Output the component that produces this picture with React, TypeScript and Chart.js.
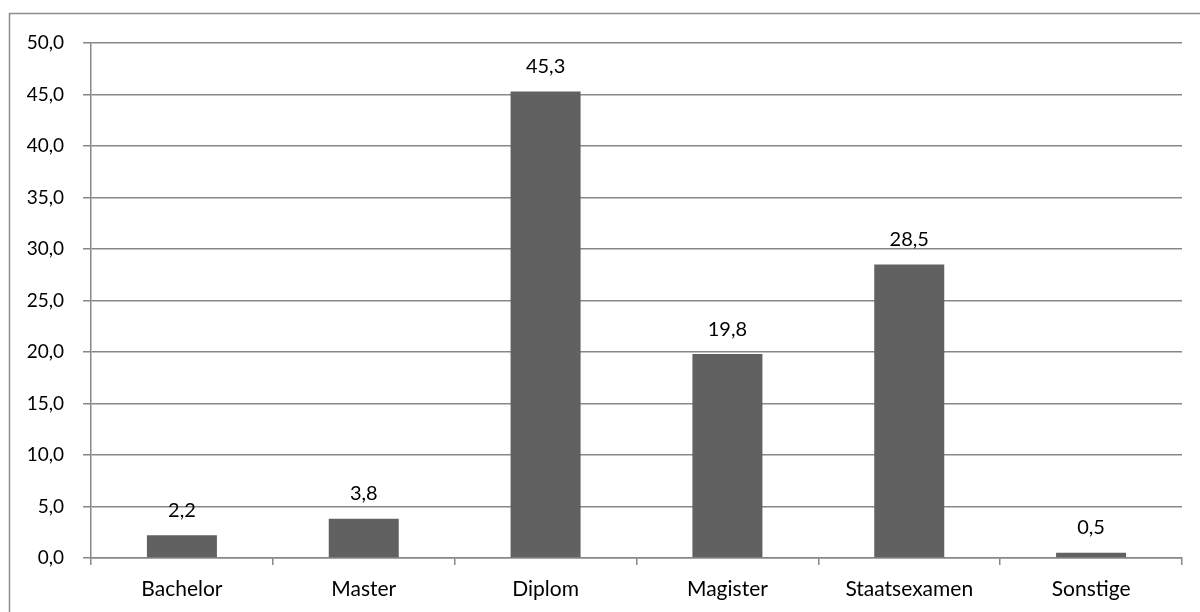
import React, { useEffect, useRef } from "react";
import { Chart, registerables } from "chart.js";

Chart.register(...registerables);

const categories = ["Bachelor", "Master", "Diplom", "Magister", "Staatsexamen", "Sonstige"];
const values = [2.2, 3.8, 45.3, 19.8, 28.5, 0.5];
const yTicks = [0, 5, 10, 15, 20, 25, 30, 35, 40, 45, 50];

const fmt = (v: number) => v.toFixed(1).replace(".", ",");
const FONT = "Lato, 'Open Sans', sans-serif";
const GRID = "#878787";

export default function App() {
  const ref = useRef<HTMLCanvasElement | null>(null);
  useEffect(() => {
    if (!ref.current) return;
    const frame = {
      id: "frame",
      beforeDraw(chart: any) {
        const { ctx } = chart;
        ctx.save();
        ctx.fillStyle = "#ffffff";
        ctx.fillRect(0, 0, chart.width, chart.height);
        ctx.strokeStyle = "#8c8c8c";
        ctx.lineWidth = 1.5;
        ctx.strokeRect(9.5, 13.5, 1300, 800);
        ctx.restore();
      },
    };
    const labels = {
      id: "dlabels",
      afterDatasetsDraw(chart: any) {
        const { ctx } = chart;
        const meta = chart.getDatasetMeta(0);
        ctx.save();
        ctx.font = `20px ${FONT}`;
        ctx.fillStyle = "#000";
        ctx.textAlign = "center";
        ctx.textBaseline = "middle";
        meta.data.forEach((bar: any, i: number) => {
          ctx.fillText(fmt(values[i]), bar.x, bar.y - 25);
        });
        ctx.restore();
      },
    };
    const chart = new Chart(ref.current, {
      type: "bar",
      data: {
        labels: categories,
        datasets: [
          {
            data: values,
            backgroundColor: "#616161",
            borderWidth: 0,
            categoryPercentage: 1,
            barPercentage: 0.385,
          },
        ],
      },
      options: {
        animation: false,
        responsive: false,
        devicePixelRatio: 1,
        layout: { padding: { left: 0, top: 43, right: 18, bottom: 0 } },
        plugins: { legend: { display: false }, tooltip: { enabled: false }, title: { display: false } },
        scales: {
          x: {
            offset: true,
            grid: { display: true, drawOnChartArea: false, drawTicks: true, tickLength: 7, color: GRID, lineWidth: 1.5, offset: true },
            border: { display: true, color: GRID, width: 1.5 },
            ticks: { color: "#000", font: { family: FONT, size: 21 }, padding: 12, maxRotation: 0 },
            afterFit(scale: any) {
              scale.height = 54;
            },
          },
          y: {
            min: 0,
            max: 50,
            afterBuildTicks(scale: any) {
              scale.ticks = yTicks.map((v) => ({ value: v }));
            },
            grid: { color: GRID, lineWidth: 1.5, tickLength: 8 },
            border: { display: true, color: GRID, width: 1.5 },
            ticks: {
              color: "#000",
              font: { family: FONT, size: 19 },
              padding: 19,
              callback: (v: any) => fmt(Number(v)),
            },
            afterFit(scale: any) {
              scale.width = 91;
            },
          },
        },
      },
      plugins: [frame, labels],
    });
    return () => chart.destroy();
  }, []);
  return (
    <div style={{ position: "fixed", left: 0, top: 0, width: 1200, height: 612, background: "#fff" }}>
      <canvas ref={ref} width={1200} height={612} style={{ width: 1200, height: 612, display: "block" }} />
    </div>
  );
}
